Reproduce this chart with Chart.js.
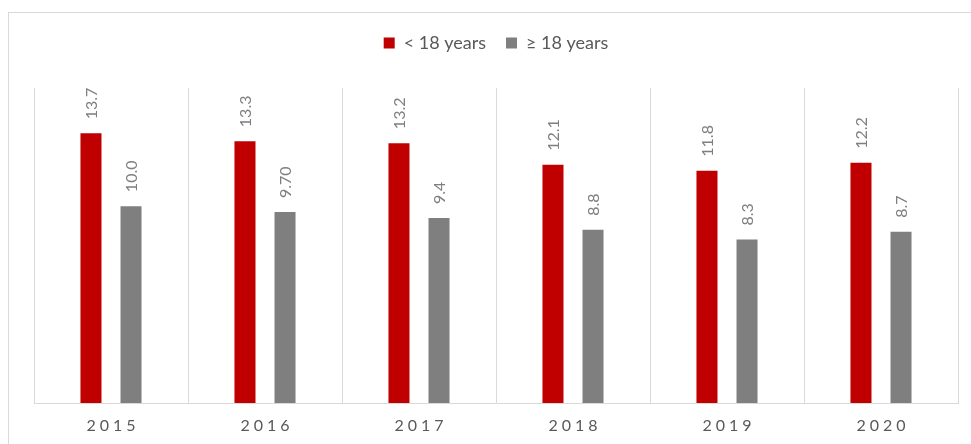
<!DOCTYPE html>
<html>
<head>
<meta charset="utf-8">
<script src="https://cdn.jsdelivr.net/npm/chart.js@4/dist/chart.umd.min.js"></script>
<style>
    html, body { margin: 0; padding: 0; background: #fff; }
    canvas { display: block; }
</style>
</head>
<body>
<canvas id="chart" width="971" height="444"></canvas>
<script>
// Data
const years = ["2015", "2016", "2017", "2018", "2019", "2020"];
const under18 = [13.7, 13.3, 13.2, 12.1, 11.8, 12.2];
const over18 = [10.0, 9.70, 9.4, 8.8, 8.3, 8.7];
const under18Labels = ["13.7", "13.3", "13.2", "12.1", "11.8", "12.2"];
const over18Labels = ["10.0", "9.70", "9.4", "8.8", "8.3", "8.7"];
const seriesNames = ["< 18 years", "\u2265 18 years"];

const FONT = "Lato, 'Open Sans', sans-serif";

// Outer frame + extra legend spacing
const framePlugin = {
    id: 'frame',
    beforeInit(chart) {
        const origFit = chart.legend.fit;
        chart.legend.fit = function () {
            origFit.bind(chart.legend)();
            this.height += 26;
        };
    },
    beforeDraw(chart) {
        const ctx = chart.ctx;
        ctx.save();
        ctx.strokeStyle = '#d9d9d9';
        ctx.lineWidth = 1;
        ctx.strokeRect(8.5, 12.5, 1100, 1000);
        ctx.restore();
    }
};

// Rotated value labels and spaced year labels
const labelPlugin = {
    id: 'valueLabels',
    afterDatasetsDraw(chart) {
        const ctx = chart.ctx;
        const texts = [under18Labels, over18Labels];
        ctx.save();
        ctx.fillStyle = '#7f7f7f';
        ctx.font = '16px ' + FONT;
        ctx.textAlign = 'left';
        ctx.textBaseline = 'middle';
        chart.data.datasets.forEach((ds, di) => {
            chart.getDatasetMeta(di).data.forEach((bar, i) => {
                ctx.save();
                ctx.translate(bar.x + 1, bar.y - 14);
                ctx.rotate(-Math.PI / 2);
                ctx.fillText(texts[di][i], 0, 0);
                ctx.restore();
            });
        });
        ctx.restore();
    },
    afterDraw(chart) {
        const ctx = chart.ctx;
        const xScale = chart.scales.x;
        ctx.save();
        ctx.fillStyle = '#595959';
        ctx.font = '16px ' + FONT;
        ctx.letterSpacing = '4px';
        ctx.textAlign = 'center';
        ctx.textBaseline = 'middle';
        years.forEach((y, i) => {
            ctx.fillText(y, xScale.getPixelForTick(i) + 2, 426);
        });
        ctx.restore();
    }
};

new Chart(document.getElementById('chart'), {
    type: 'bar',
    data: {
        labels: years,
        datasets: [{
            label: seriesNames[0],
            data: under18,
            backgroundColor: '#c00000',
            categoryPercentage: 0.52,
            barPercentage: 0.525,
        }, {
            label: seriesNames[1],
            data: over18,
            backgroundColor: '#7f7f7f',
            categoryPercentage: 0.52,
            barPercentage: 0.525,
        }],
    },
    options: {
        responsive: false,
        animation: false,
        layout: { padding: { left: 34, right: 13, top: 14, bottom: 41 } },
        plugins: {
            tooltip: { enabled: false },
            legend: {
                position: 'top',
                labels: {
                    boxWidth: 11,
                    boxHeight: 11,
                    padding: 20,
                    color: '#595959',
                    font: { family: FONT, size: 18 },
                },
            },
        },
        scales: {
            x: {
                grid: { offset: true, color: '#d9d9d9', drawTicks: false },
                border: { color: '#d9d9d9' },
                ticks: { display: false },
            },
            y: {
                display: false,
                min: 0,
                max: 16,
            },
        },
    },
    plugins: [framePlugin, labelPlugin],
});
</script>
</body>
</html>
